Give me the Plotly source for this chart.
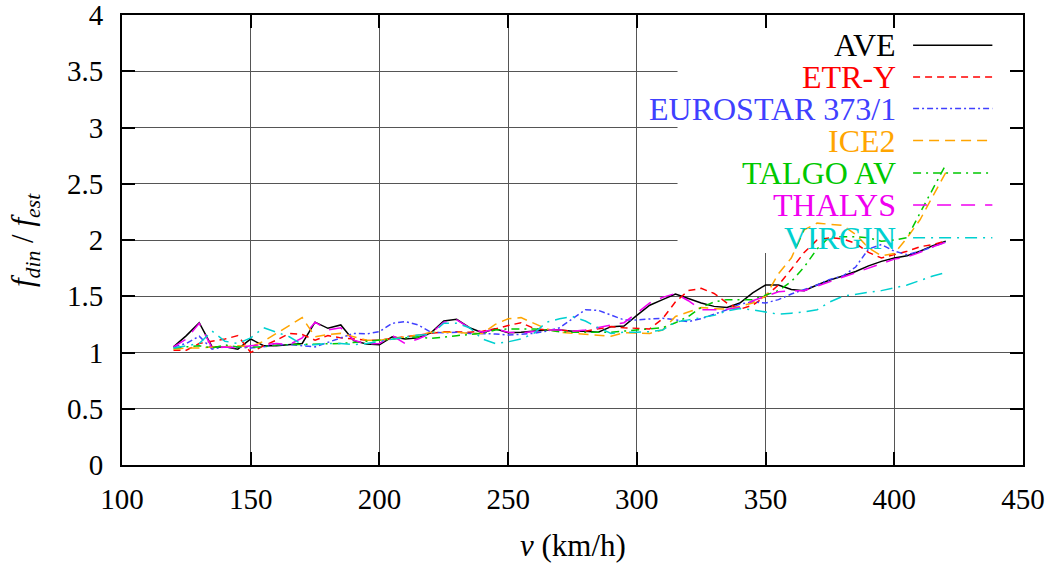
import plotly.graph_objects as go

speeds = [120, 125, 130, 135, 140, 145, 150, 155, 160, 165,
          170, 175, 180, 185, 190, 195, 200, 205, 210, 215,
          220, 225, 230, 235, 240, 245, 250, 255, 260, 265,
          270, 275, 280, 285, 290, 295, 300, 305, 310, 315,
          320, 325, 330, 335, 340, 345, 350, 355, 360, 365,
          370, 375, 380, 385, 390, 395, 400, 405, 410, 415, 420]

ave = [1.05, 1.15, 1.265, 1.05, 1.05, 1.03, 1.12, 1.06, 1.06, 1.07,
       1.08, 1.27, 1.215, 1.245, 1.105, 1.075, 1.07, 1.14, 1.12, 1.13,
       1.175, 1.28, 1.295, 1.22, 1.175, 1.21, 1.175, 1.18, 1.19, 1.2,
       1.2, 1.19, 1.19, 1.18, 1.23, 1.235, 1.33, 1.42, 1.47, 1.52,
       1.48, 1.44, 1.41, 1.40, 1.44, 1.53, 1.60, 1.60, 1.56, 1.55,
       1.60, 1.645, 1.68, 1.72, 1.77, 1.81, 1.84, 1.86, 1.90, 1.95, 1.99]

etr_y = [1.02, 1.02, 1.08, 1.10, 1.12, 1.15, 1.00, 1.06, 1.11, 1.17,
         1.16, 1.11, 1.15, 1.13, 1.12, 1.11, 1.11, 1.125, 1.14, 1.16,
         1.17, 1.185, 1.185, 1.18, 1.19, 1.21, 1.24, 1.265, 1.215, 1.2,
         1.2, 1.19, 1.19, 1.21, 1.23, 1.22, 1.215, 1.21, 1.30, 1.45,
         1.55, 1.57, 1.525, 1.44, 1.385, 1.42, 1.50, 1.60, 1.74, 1.89,
         2.00, 2.02, 2.01, 1.97, 1.89, 1.84, 1.87, 1.90, 1.94, 1.96, 1.99]

eurostar = [1.05, 1.08, 1.145, 1.03, 1.05, 1.05, 1.04, 1.05, 1.07, 1.07,
            1.06, 1.05, 1.09, 1.13, 1.17, 1.165, 1.185, 1.26, 1.275, 1.245,
            1.18, 1.175, 1.18, 1.17, 1.17, 1.165, 1.155, 1.16, 1.17, 1.19,
            1.22, 1.30, 1.38, 1.375, 1.33, 1.29, 1.29, 1.295, 1.305, 1.29,
            1.275, 1.30, 1.34, 1.38, 1.43, 1.45, 1.44, 1.47, 1.52, 1.56,
            1.60, 1.65, 1.68, 1.76, 1.92, 1.96, 1.90, 1.87, 1.90, 1.94, 1.98]

ice2 = [1.03, 1.04, 1.04, 1.05, 1.05, 1.06, 1.05, 1.10, 1.17, 1.24,
        1.31, 1.14, 1.16, 1.17, 1.14, 1.11, 1.11, 1.12, 1.14, 1.155,
        1.18, 1.18, 1.18, 1.17, 1.17, 1.25, 1.30, 1.31, 1.26, 1.21,
        1.18, 1.17, 1.16, 1.155, 1.145, 1.175, 1.17, 1.17, 1.20, 1.32,
        1.36, 1.40, 1.39, 1.385, 1.41, 1.44, 1.50, 1.70, 1.84, 2.09,
        2.15, 2.14, 2.13, 2.05, 1.93, 1.86, 1.88, 2.02, 2.18, 2.39, 2.60]

talgo = [1.04, 1.05, 1.06, 1.04, 1.067, 1.05, 1.05, 1.05, 1.067, 1.07,
         1.07, 1.075, 1.075, 1.08, 1.09, 1.10, 1.11, 1.12, 1.13, 1.14,
         1.125, 1.14, 1.15, 1.16, 1.17, 1.20, 1.21, 1.21, 1.21, 1.20,
         1.185, 1.18, 1.18, 1.175, 1.18, 1.19, 1.20, 1.205, 1.22, 1.265,
         1.32, 1.40, 1.45, 1.47, 1.47, 1.47, 1.51, 1.55, 1.63, 1.76,
         1.92, 2.03, 2.03, 2.03, 2.02, 1.99, 2.00, 2.02, 2.24, 2.45, 2.67]

thalys = [1.05, 1.12, 1.26, 1.04, 1.05, 1.04, 1.06, 1.07, 1.08, 1.07,
          1.13, 1.27, 1.20, 1.22, 1.11, 1.075, 1.08, 1.15, 1.08, 1.12,
          1.17, 1.27, 1.29, 1.22, 1.18, 1.21, 1.18, 1.175, 1.19, 1.2,
          1.20, 1.19, 1.20, 1.22, 1.245, 1.265, 1.35, 1.44, 1.49, 1.525,
          1.46, 1.38, 1.38, 1.385, 1.40, 1.46, 1.50, 1.54, 1.547, 1.55,
          1.59, 1.63, 1.67, 1.71, 1.75, 1.79, 1.83, 1.85, 1.89, 1.94, 1.98]

virgin = [1.04, 1.06, 1.08, 1.19, 1.10, 1.08, 1.13, 1.22, 1.18, 1.14,
          1.07, 1.07, 1.08, 1.08, 1.07, 1.08, 1.10, 1.12, 1.14, 1.155,
          1.16, 1.26, 1.26, 1.22, 1.12, 1.08, 1.095, 1.12, 1.17, 1.27,
          1.30, 1.32, 1.28, 1.22, 1.17, 1.18, 1.18, 1.185, 1.20, 1.27,
          1.29, 1.31, 1.33, 1.37, 1.39, 1.38, 1.36, 1.34, 1.35, 1.36,
          1.38, 1.45, 1.50, 1.52, 1.535, 1.55, 1.575, 1.60, 1.64, 1.68, 1.71]

y_ticks = [0, 0.5, 1, 1.5, 2, 2.5, 3, 3.5, 4]
y_tick_text = ["0", "0.5", "1", "1.5", "2", "2.5", "3", "3.5", "4"]
x_ticks = [100, 150, 200, 250, 300, 350, 400, 450]

names = ["AVE", "ETR-Y", "EUROSTAR 373/1", "ICE2", "TALGO AV", "THALYS", "VIRGIN"]
series = [ave, etr_y, eurostar, ice2, talgo, thalys, virgin]
colors = ["#000000", "#ff0000", "#4040ff", "#ffa500", "#00c800", "#f000f0", "#00d0d0"]
dashes = ["solid", "7px,5px", "6px,3px,2px,3px", "10px,6px",
          "8px,5px,2px,5px", "14px,10px", "12px,6px,2px,6px"]

FONT = "Liberation Serif"

fig = go.Figure()
for name, ys, c, d in zip(names, series, colors, dashes):
    fig.add_trace(go.Scatter(x=speeds, y=ys, mode="lines", name=name,
                             line=dict(color=c, width=1.5, dash=d),
                             showlegend=False))

# opaque key area hiding the grid (gnuplot "key opaque")
fig.add_shape(type="rect", xref="x", yref="y", x0=315.8, x1=450, y0=1.884, y1=4,
              fillcolor="white", line=dict(width=0), layer="between")

# manual gnuplot-style key: text right-aligned, sample on the right
row_y = [0.933, 0.862, 0.792, 0.721, 0.649, 0.578, 0.505]
for name, c, d, yy in zip(names, colors, dashes, row_y):
    fig.add_annotation(xref="paper", yref="paper", x=0.861, y=yy, text=name,
                       xanchor="right", yanchor="middle", showarrow=False,
                       font=dict(family=FONT, size=32, color=c))
    fig.add_shape(type="line", xref="paper", yref="paper", x0=0.878, x1=0.966,
                  y0=yy, y1=yy, line=dict(color=c, width=1.5, dash=d), layer="above")

axis_common = dict(showline=True, linecolor="black", linewidth=2, mirror="ticks",
                   ticks="inside", ticklen=13, tickwidth=2, tickcolor="black",
                   showgrid=True, gridcolor="#555555", gridwidth=1, zeroline=False,
                   ticklabeloverflow="allow", automargin=False,
                   tickfont=dict(family=FONT, size=29, color="black"))

fig.update_xaxes(range=[100, 450], tickmode="array", tickvals=x_ticks,
                 ticklabelstandoff=7, **axis_common)
fig.update_yaxes(range=[0, 4], tickmode="array", tickvals=y_ticks, ticktext=y_tick_text,
                 ticklabelstandoff=11, **axis_common)

fig.add_annotation(xref="paper", yref="paper", x=0.5, y=0, yshift=-80,
                   text="<i>v</i> (km/h)", showarrow=False, xanchor="center", yanchor="middle",
                   font=dict(family=FONT, size=31, color="black"))
fig.add_annotation(xref="paper", yref="paper", x=0, xshift=-97, y=0.5,
                   text="<i>f</i><sub><i>din</i></sub> / <i>f</i><sub><i>est</i></sub>",
                   textangle=-90, showarrow=False, xanchor="center", yanchor="middle",
                   font=dict(family=FONT, size=31, color="black"))

fig.update_layout(width=1051, height=566, margin=dict(l=122, r=28, t=15, b=101),
                  plot_bgcolor="white", paper_bgcolor="white")

fig.write_html("out.html")
